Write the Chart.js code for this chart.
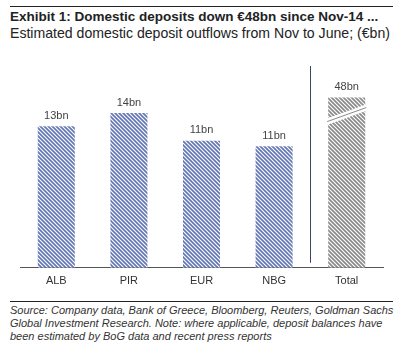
<!DOCTYPE html>
<html>
<head>
<meta charset="utf-8">
<script src="https://cdn.jsdelivr.net/npm/chart.js@4"></script>
<style>
    body { margin: 0; background: #fff; font-family: "Liberation Sans", Arial, sans-serif; }
    #wrap { position: relative; width: 400px; height: 350px; overflow: hidden; }
    .rule { position: absolute; left: 10px; width: 383px; border-top: 1px solid #222; }
    #title { position: absolute; left: 10px; top: 9px; font-size: 13.5px; font-weight: bold; color: #222; white-space: nowrap; }
    #subtitle { position: absolute; left: 10px; top: 25px; font-size: 14.1px; color: #222; white-space: nowrap; }
    #chartBox { position: absolute; left: 0; top: 40px; width: 400px; height: 255px; }
    #source { position: absolute; left: 10px; top: 304px; font-size: 11px; font-style: italic; color: #333; line-height: 13px; }
</style>
</head>
<body>
<div id="wrap">
    <div class="rule" style="top:6px"></div>
    <div id="title">Exhibit 1: Domestic deposits down €48bn since Nov-14 ...</div>
    <div id="subtitle">Estimated domestic deposit outflows from Nov to June; (€bn)</div>
    <div id="chartBox"><canvas id="depositChart"></canvas></div>
    <div class="rule" style="top:301px"></div>
    <div id="source">Source: Company data, Bank of Greece, Bloomberg, Reuters, Goldman Sachs<br>Global Investment Research. Note: where applicable, deposit balances have<br>been estimated by BoG data and recent press reports</div>
</div>

<script>
// Chart data
const banks = ['ALB', 'PIR', 'EUR', 'NBG', 'Total'];
const outflows = [12.8, 14, 11.5, 11, 48];
const valueLabels = ['13bn', '14bn', '11bn', '11bn', '48bn'];
// Total bar is drawn with a broken axis, so it is cut at this height
const axisBreakAt = 15.4;
const axisMax = 18.8;

// diagonal stripe fill
function stripes(color) {
    const c = document.createElement('canvas');
    c.width = 4;
    c.height = 4;
    const g = c.getContext('2d');
    g.fillStyle = color;
    g.fillRect(0, 0, 4, 4);
    g.strokeStyle = '#ffffff';
    g.lineWidth = 1.1;
    g.beginPath();
    g.moveTo(-1, -1); g.lineTo(5, 5);
    g.moveTo(-1, 3); g.lineTo(1, 5);
    g.moveTo(3, -1); g.lineTo(5, 1);
    g.stroke();
    return g.createPattern(c, 'repeat');
}

const blueFill = stripes('#6477b4');
const greyFill = stripes('#8a8a8a');

// Bar heights shown on the chart (Total is truncated)
const plotted = outflows.map(v => Math.min(v, axisBreakAt));

// Labels above bars, divider line and the axis-break mark on Total
const extrasPlugin = {
    id: 'extras',
    afterDatasetsDraw(chart) {
        const ctx = chart.ctx;
        const bars = chart.getDatasetMeta(0).data;
        const area = chart.chartArea;
        ctx.save();

        ctx.fillStyle = '#444';
        ctx.font = '11px "Liberation Sans", Arial, sans-serif';
        ctx.textAlign = 'center';
        ctx.textBaseline = 'bottom';
        bars.forEach((bar, i) => {
            ctx.fillText(valueLabels[i], bar.x, bar.y - 5);
        });

        // vertical divider between banks and Total
        const xs = chart.scales.x;
        const divX = Math.round((xs.getPixelForValue(3) + xs.getPixelForValue(4)) / 2) + 0.5;
        ctx.strokeStyle = '#3a4560';
        ctx.lineWidth = 1;
        ctx.beginPath();
        ctx.moveTo(divX, area.top + 6);
        ctx.lineTo(divX, area.bottom - 5);
        ctx.stroke();

        // break mark on Total
        const t = bars[4];
        const left = t.x - t.width / 2 - 1;
        const right = t.x + t.width / 2 + 1;
        const midY = t.y + 17;
        ctx.strokeStyle = '#ffffff';
        ctx.lineWidth = 6;
        ctx.beginPath();
        ctx.moveTo(left, midY + 7);
        ctx.lineTo(right, midY - 7);
        ctx.stroke();
        ctx.strokeStyle = '#8a8a8a';
        ctx.lineWidth = 1;
        ctx.beginPath();
        ctx.moveTo(left, midY + 7);
        ctx.lineTo(right, midY - 7);
        ctx.stroke();

        ctx.restore();
    }
};

new Chart(document.getElementById('depositChart'), {
    type: 'bar',
    data: {
        labels: banks,
        datasets: [{
            data: plotted,
            backgroundColor: [blueFill, blueFill, blueFill, blueFill, greyFill],
            borderWidth: 0,
            barPercentage: 0.51,
            categoryPercentage: 1
        }]
    },
    options: {
        responsive: true,
        maintainAspectRatio: false,
        animation: false,
        layout: { padding: { top: 20, left: 20, right: 17, bottom: 0 } },
        plugins: {
            legend: { display: false },
            tooltip: { enabled: false }
        },
        scales: {
            x: {
                grid: { display: false, drawTicks: false },
                border: { display: true, color: '#555', width: 1 },
                ticks: {
                    color: '#333',
                    padding: 7,
                    font: { family: '"Liberation Sans", Arial, sans-serif', size: 11 }
                }
            },
            y: {
                display: false,
                min: 0,
                max: axisMax
            }
        }
    },
    plugins: [extrasPlugin]
});
</script>
</body>
</html>
